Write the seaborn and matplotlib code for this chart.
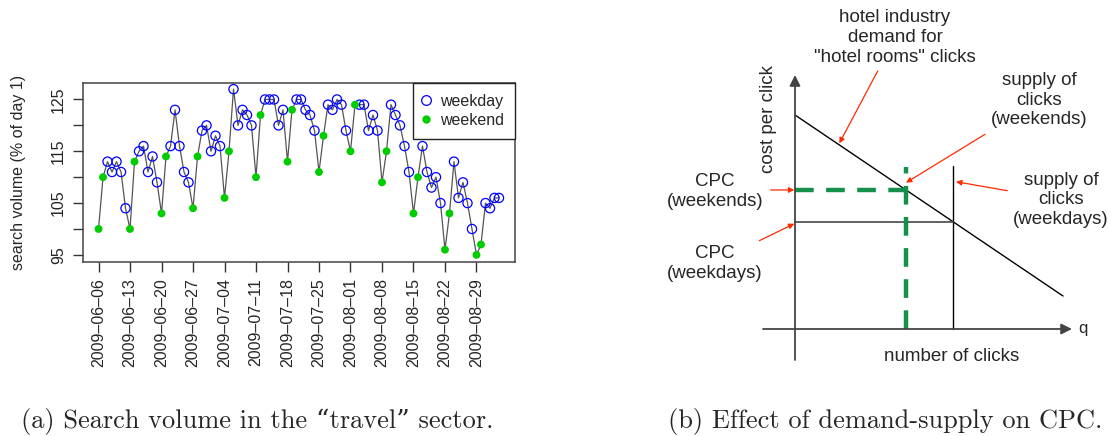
import numpy as np
import pandas as pd
import matplotlib
matplotlib.use("Agg")
import matplotlib.pyplot as plt
import seaborn as sns
from matplotlib.lines import Line2D

# ---------------- data: left panel ----------------
start_date = "2009-06-06"
search_volume = [100, 110, 113, 111, 113, 111, 104, 100, 113, 115,
                 116, 111, 114, 109, 103, 114, 116, 123, 116, 111,
                 109, 104, 114, 119, 120, 115, 118, 116, 106, 115,
                 127, 120, 123, 122, 120, 110, 122, 125, 125, 125,
                 120, 123, 113, 123, 125, 125, 123, 122, 119, 111,
                 118, 124, 123, 125, 124, 119, 115, 124, 124, 124,
                 119, 122, 119, 109, 115, 124, 122, 120, 116, 111,
                 103, 110, 116, 111, 108, 110, 105, 96, 103, 113,
                 106, 109, 105, 100, 95, 97, 105, 104, 106, 106]
tick_dates = ["2009-06-06", "2009-06-13", "2009-06-20", "2009-06-27",
              "2009-07-04", "2009-07-11", "2009-07-18", "2009-07-25",
              "2009-08-01", "2009-08-08", "2009-08-15", "2009-08-22",
              "2009-08-29"]
y_ticks = [95, 100, 105, 110, 115, 120, 125]
y_ticklabels = ["95", "", "105", "", "115", "", "125"]

# ---------------- data: right panel (schematic) ----------------
demand_q = [0.0, 26.8]        # quantity (number of clicks)
demand_p = [21.4, 3.3]        # cost per click
supply_weekday_q = 15.8
supply_weekend_q = 11.1
supply_top = 16.3

# ---------------- figure ----------------
sns.set_style("ticks")
plt.rcParams["font.family"] = ["Liberation Sans", "DejaVu Sans"]

W, H = 1112, 436
fig = plt.figure(figsize=(W / 100, H / 100), dpi=100)

# ---------- left panel ----------
dates = pd.date_range(start_date, periods=len(search_volume))
df = pd.DataFrame({
    "day": (dates - dates[0]).days,
    "volume": search_volume,
    "type": np.where(dates.dayofweek >= 5, "weekend", "weekday"),
})
ax1 = fig.add_axes([82.5 / W, (H - 261.5) / H, 432.5 / W, 179 / H])
sns.lineplot(data=df, x="day", y="volume", color="#555555", lw=0.9, ax=ax1,
             zorder=1)
wd = df[df["type"] == "weekday"]
we = df[df["type"] == "weekend"]
sns.scatterplot(data=wd, x="day", y="volume", ax=ax1, s=44,
                facecolor="none", edgecolor="#0000ff", linewidth=0.9,
                zorder=3)
sns.scatterplot(data=we, x="day", y="volume", ax=ax1, s=32,
                color="#00cd00", edgecolor="none", zorder=3)

n = len(search_volume)
ax1.set_xlim(-0.04 * (n - 1), (n - 1) * 1.04)
ax1.set_ylim(95 - 0.04 * 32, 127 + 0.04 * 32)
tick_pos = [(pd.Timestamp(t) - dates[0]).days for t in tick_dates]
ax1.set_xticks(tick_pos)
ax1.set_xticklabels([t.replace("-", "\u2013") for t in tick_dates],
                    rotation=90, fontsize=11.5)
ax1.set_yticks(y_ticks)
ax1.set_yticklabels(y_ticklabels, rotation=90, va="center", fontsize=11.5)
ax1.tick_params(axis="both", length=7, width=1, color="#333333", pad=5)
ax1.set_xlabel("")
ax1.set_ylabel("search volume (% of day 1)", fontsize=11.5, labelpad=18)
for s in ax1.spines.values():
    s.set_color("#444444")
    s.set_linewidth(1.1)

handles = [
    Line2D([], [], ls="none", marker="o", ms=7, mfc="none", mec="#0000ff",
           mew=0.9, label="weekday"),
    Line2D([], [], ls="none", marker="o", ms=6, mfc="#00cd00", mec="none",
           label="weekend"),
]
leg = ax1.legend(handles=handles, loc="upper right", borderaxespad=0,
                 fontsize=11.5, frameon=True, fancybox=False,
                 edgecolor="#222222", framealpha=1, labelspacing=0.25,
                 handletextpad=0.7, handlelength=0.3, borderpad=0.7)
leg.get_frame().set_linewidth(1.0)

# ---------- right panel (schematic, 10 px per unit) ----------
ax2 = fig.add_axes([640 / W, 0, 472 / W, 1])
ax2.set_xlim(-15.5, 31.7)
ax2.set_ylim(-10.7, 32.9)
ax2.axis("off")

axis_col = "#444444"
ax2.annotate("", xy=(0, 25.4), xytext=(0, -3.1),
             arrowprops=dict(arrowstyle="-|>", color=axis_col, lw=1.3,
                             mutation_scale=16, shrinkA=0, shrinkB=0))
ax2.annotate("", xy=(27.7, 0), xytext=(-3.2, 0),
             arrowprops=dict(arrowstyle="-|>", color=axis_col, lw=1.3,
                             mutation_scale=16, shrinkA=0, shrinkB=0))

sns.lineplot(x=demand_q, y=demand_p, color="black", lw=1.0, ax=ax2)

cpc_weekday = float(np.interp(supply_weekday_q, demand_q, demand_p))
cpc_weekend = float(np.interp(supply_weekend_q, demand_q, demand_p))

ax2.plot([supply_weekday_q, supply_weekday_q], [0, supply_top],
         color="black", lw=1.0)
ax2.plot([0, supply_weekday_q], [cpc_weekday, cpc_weekday],
         color="#555555", lw=1.3)
green = "#14904a"
ax2.plot([0, supply_weekend_q], [cpc_weekend, cpc_weekend], color=green,
         lw=3.2, dashes=(4.2, 2.8))
ax2.plot([supply_weekend_q, supply_weekend_q], [0, supply_top - 0.1],
         color=green, lw=3.2, dashes=(4.2, 2.8))

red = "#ff2a00"
arrow_kw = dict(arrowstyle="-|>", color=red, lw=0.9, mutation_scale=8,
                shrinkA=0, shrinkB=0)
ax2.annotate("", xy=(4.43, 18.57), xytext=(8.27, 25.8), arrowprops=arrow_kw)
ax2.annotate("", xy=(11.1, 14.63), xytext=(19.0, 19.47), arrowprops=arrow_kw)
ax2.annotate("", xy=(16.1, 14.73), xytext=(21.23, 13.83), arrowprops=arrow_kw)
ax2.annotate("", xy=(-0.07, cpc_weekend), xytext=(-2.43, cpc_weekend),
             arrowprops=arrow_kw)
ax2.annotate("", xy=(-0.07, cpc_weekday - 0.2), xytext=(-3.57, 8.83),
             arrowprops=arrow_kw)

fs = 13.5
ax2.text(10.0, 29.15, "hotel industry\ndemand for\n\"hotel rooms\" clicks",
         ha="center", va="center", fontsize=fs, linespacing=1.2)
ax2.text(24.4, 22.87, "supply of\nclicks\n(weekends)", ha="center",
         va="center", fontsize=fs, linespacing=1.2)
ax2.text(26.6, 12.9, "supply of\nclicks\n(weekdays)", ha="center",
         va="center", fontsize=fs, linespacing=1.2)
ax2.text(-8.0, 13.77, "CPC\n(weekends)", ha="center", va="center",
         fontsize=fs, linespacing=1.2)
ax2.text(-8.0, 6.57, "CPC\n(weekdays)", ha="center", va="center",
         fontsize=fs, linespacing=1.2)
ax2.text(-2.67, 21.0, "cost per click", ha="center", va="center",
         rotation=90, fontsize=fs)
ax2.text(15.67, -2.7, "number of clicks", ha="center", va="center",
         fontsize=fs)
ax2.text(28.8, 0.1, "q", ha="center", va="center", fontsize=12)

# ---------- captions ----------
cap_font = ["cmr10", "DejaVu Serif"]
fig.text(257 / W, 1 - 421 / H, "(a) Search volume in the \u201ctravel\u201d sector.",
         ha="center", va="center", fontsize=19, family=cap_font)
fig.text(885 / W, 1 - 421 / H, "(b) Effect of demand-supply on CPC.",
         ha="center", va="center", fontsize=19, family=cap_font)

fig.savefig("out.png", dpi=100)
